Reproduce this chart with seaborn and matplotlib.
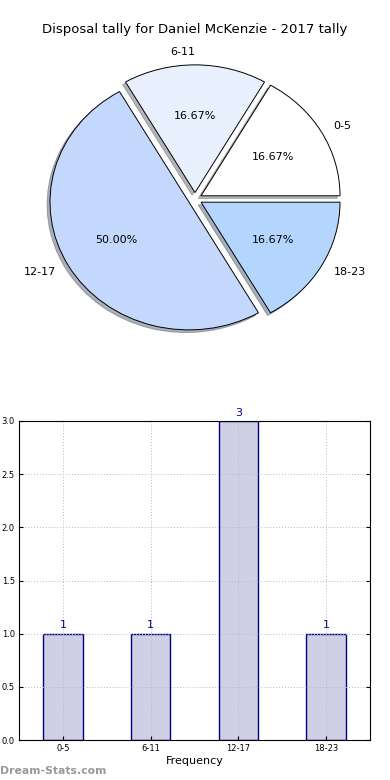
import matplotlib
matplotlib.use("Agg")
import matplotlib.pyplot as plt
import seaborn as sns
import pandas as pd

categories = ["0-5", "6-11", "12-17", "18-23"]
counts = [1, 1, 3, 1]
pie_colors = ["#ffffff", "#e8f0fe", "#c4d8fe", "#b3d5fe"]
yticks = [0.0, 0.5, 1.0, 1.5, 2.0, 2.5, 3.0]
title = "Disposal tally for Daniel McKenzie - 2017 tally"

sns.set_style("white")
plt.rcParams['font.family'] = ['DejaVu Sans']
plt.rcParams['text.color'] = 'black'
plt.rcParams['xtick.color'] = 'black'
plt.rcParams['ytick.color'] = 'black'
plt.rcParams['axes.labelcolor'] = 'black'

fig = plt.figure(figsize=(3.9, 7.8), dpi=100)

# Pie
axp = fig.add_axes([0, 1 - 370 / 780, 1, 340 / 780])
wedges, texts, autotexts = axp.pie(
    counts, labels=categories, colors=pie_colors, autopct='%.2f%%',
    explode=[0.05] * len(counts),
    shadow={'ox': -0.015, 'oy': -0.015, 'shade': 0.55}, startangle=0,
    wedgeprops=dict(edgecolor='black', linewidth=0.7),
    textprops=dict(fontsize=8, color='black'), labeldistance=1.1, pctdistance=0.6)
axp.set_aspect('auto')
axp.set_xlim(-1.403, 1.403)
axp.set_ylim(-1.339, 1.323)
axp.axis('off')
fig.text(0.5, 1 - 30 / 780, title, ha='center', va='center', fontsize=9.5,
         color='black')

# Bars
axb = fig.add_axes([19 / 390, 1 - 740 / 780, 351 / 390, 319 / 780])
df = pd.DataFrame({"cat": categories, "count": counts})
sns.barplot(data=df, x="cat", y="count", ax=axb, color="#cfcfe5",
            edgecolor="#000080", linewidth=1.0, width=0.45, saturation=1)
axb.set_xlim(-0.5, 3.5)
axb.set_ylim(0, 3.0)
axb.set_yticks(yticks)
axb.set_yticklabels([f"{v:.1f}" for v in yticks])
axb.tick_params(axis='both', labelsize=6, direction='in', length=3,
                top=False, right=True, left=True, bottom=True, pad=3,
                colors='black')
axb.grid(True, linestyle=(0, (1, 2)), color='#b8b8b8', linewidth=0.7)
axb.set_axisbelow(False)
for p in axb.patches:
    p.set_zorder(1)
for gl in axb.get_xgridlines() + axb.get_ygridlines():
    gl.set_zorder(2)
for s in axb.spines.values():
    s.set_color('black')
    s.set_linewidth(0.8)
    s.set_zorder(3)
axb.set_xlabel("Frequency", fontsize=8, labelpad=2, color='black')
axb.set_ylabel("")
for i, v in enumerate(counts):
    axb.text(i, v + 0.03, str(v), ha='center', va='bottom', fontsize=8,
             color='#000080', clip_on=False)

fig.text(0.0, 1 - 771 / 780, "Dream-Stats.com", ha='left', va='center',
         fontsize=7.8, color='#999999', fontweight='bold')

fig.savefig("out.png", dpi=100)
